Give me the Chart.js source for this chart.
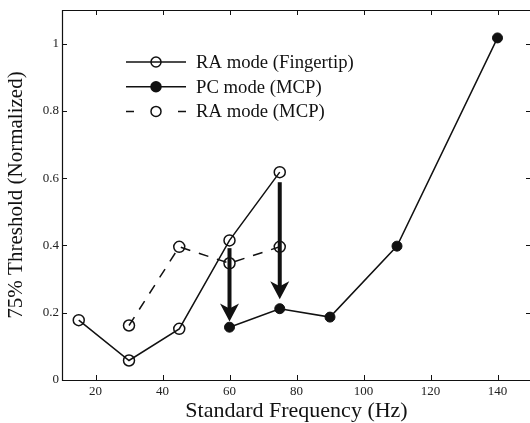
<!DOCTYPE html>
<html>
<head>
<meta charset="utf-8">
<script src="https://cdn.jsdelivr.net/npm/chart.js@4/dist/chart.umd.min.js"></script>
<style>
  html, body { margin: 0; padding: 0; background: #fff; }
  /* the right edge of the axes box sits just past the picture edge, so clip it */
  #wrap { width: 530px; height: 423px; overflow: hidden; }
</style>
</head>
<body>
<div id="wrap"><canvas id="chart" width="538" height="423"></canvas></div>
<script>
// values
const raFingerX = [15, 30, 45, 60, 75];
const raFingerY = [0.178, 0.058, 0.152, 0.415, 0.618];
const pcMcpX = [60, 75, 90, 110, 140];
const pcMcpY = [0.157, 0.212, 0.187, 0.398, 1.017];
const raMcpX = [30, 45, 60, 75];
const raMcpY = [0.162, 0.396, 0.347, 0.396];

// the two shift arrows (x, from y, to y)
const arrowX = [60, 75];
const arrowFrom = [0.392, 0.588];
const arrowTo = [0.174, 0.24];

const xTicks = [20, 40, 60, 80, 100, 120, 140];
const yTicks = [0, 0.2, 0.4, 0.6, 0.8, 1];

const INK = '#111';
const SERIF = '"Liberation Serif", "Times New Roman", serif';

const toPoints = (xs, ys) => xs.map((x, i) => ({ x: x, y: ys[i] }));

// ── frame with inward ticks on all four sides ──
const framePlugin = {
    id: 'frame',
    afterDraw(chart) {
        const { ctx, chartArea: a, scales: { x, y } } = chart;
        const l = Math.round(a.left) + 0.5, r = Math.round(a.right) + 1.5;
        const t = Math.round(a.top) + 0.5, b = Math.round(a.bottom) + 0.5;
        ctx.save();
        ctx.strokeStyle = INK;
        ctx.lineWidth = 1.2;
        ctx.beginPath();
        ctx.moveTo(r, t); ctx.lineTo(l, t); ctx.lineTo(l, b); ctx.lineTo(r, b); ctx.lineTo(r, t);
        ctx.stroke();
        ctx.lineWidth = 1;
        ctx.beginPath();
        x.ticks.forEach(tk => {
            const px = Math.round(x.getPixelForValue(tk.value)) + 0.5;
            ctx.moveTo(px, a.bottom); ctx.lineTo(px, a.bottom - 5);
            ctx.moveTo(px, a.top); ctx.lineTo(px, a.top + 5);
        });
        y.ticks.forEach(tk => {
            const py = Math.round(y.getPixelForValue(tk.value)) + 0.5;
            ctx.moveTo(a.left, py); ctx.lineTo(a.left + 5, py);
            ctx.moveTo(a.right, py); ctx.lineTo(a.right - 5, py);
        });
        ctx.stroke();
        ctx.restore();
    }
};

// ── thick downward arrows ──
const arrowPlugin = {
    id: 'arrows',
    afterDatasetsDraw(chart) {
        const { ctx, scales: { x, y } } = chart;
        ctx.save();
        ctx.strokeStyle = INK;
        ctx.fillStyle = INK;
        arrowX.forEach((ax, i) => {
            const px = x.getPixelForValue(ax);
            const y0 = y.getPixelForValue(arrowFrom[i]);
            const y1 = y.getPixelForValue(arrowTo[i]);
            ctx.lineWidth = 4;
            ctx.beginPath();
            ctx.moveTo(px, y0);
            ctx.lineTo(px, y1 - 12);
            ctx.stroke();
            ctx.beginPath();
            ctx.moveTo(px, y1);
            ctx.lineTo(px + 9.5, y1 - 18);
            ctx.lineTo(px, y1 - 13);
            ctx.lineTo(px - 9.5, y1 - 18);
            ctx.closePath();
            ctx.fill();
        });
        ctx.restore();
    }
};

// ── legend drawn inside the plot, upper left ──
const legendPlugin = {
    id: 'innerLegend',
    afterDraw(chart) {
        const { ctx } = chart;
        ctx.save();
        chart.data.datasets.forEach((ds, i) => {
            const cy = 62 + i * 24.7;
            ctx.strokeStyle = INK;
            ctx.lineWidth = 1.5;
            ctx.setLineDash(ds.borderDash && ds.borderDash.length ? [8, 44] : []);
            ctx.beginPath();
            ctx.moveTo(126, cy);
            ctx.lineTo(186, cy);
            ctx.stroke();
            ctx.setLineDash([]);
            ctx.beginPath();
            ctx.arc(156, cy, 5, 0, Math.PI * 2);
            if (ds.pointBackgroundColor !== 'transparent') {
                ctx.fillStyle = INK;
                ctx.fill();
            }
            ctx.stroke();
            ctx.fillStyle = INK;
            ctx.font = '18.7px ' + SERIF;
            ctx.textBaseline = 'middle';
            ctx.textAlign = 'left';
            ctx.fillText(ds.label, 196, cy + 1);
        });
        ctx.restore();
    }
};

new Chart(document.getElementById('chart'), {
    type: 'scatter',
    data: {
        datasets: [
            {
                label: 'RA mode (Fingertip)',
                data: toPoints(raFingerX, raFingerY),
                showLine: true,
                borderColor: INK,
                borderWidth: 1.5,
                pointRadius: 5.5,
                pointBorderWidth: 1.5,
                pointBorderColor: INK,
                pointBackgroundColor: 'transparent',
                borderDash: []
            },
            {
                label: 'PC mode (MCP)',
                data: toPoints(pcMcpX, pcMcpY),
                showLine: true,
                borderColor: INK,
                borderWidth: 1.5,
                pointRadius: 5,
                pointBorderWidth: 1,
                pointBorderColor: INK,
                pointBackgroundColor: INK,
                borderDash: []
            },
            {
                label: 'RA mode (MCP)',
                data: toPoints(raMcpX, raMcpY),
                showLine: true,
                borderColor: INK,
                borderWidth: 1.5,
                borderDash: [10, 9],
                pointRadius: 5.5,
                pointBorderWidth: 1.5,
                pointBorderColor: INK,
                pointBackgroundColor: 'transparent'
            }
        ]
    },
    options: {
        responsive: false,
        animation: false,
        devicePixelRatio: 1,
        layout: { padding: { top: 10, right: 0, left: 0, bottom: 0 } },
        plugins: {
            legend: { display: false },
            tooltip: { enabled: false }
        },
        scales: {
            x: {
                type: 'linear',
                min: 10, max: 150,
                afterBuildTicks: s => { s.ticks = xTicks.map(v => ({ value: v })); },
                afterFit: s => { s.height = 43; s.paddingLeft = 0; s.paddingRight = 0; },
                grid: { display: false, drawTicks: false },
                border: { display: false },
                ticks: { color: '#222', font: { family: SERIF, size: 13 }, padding: 4, maxRotation: 0 },
                title: {
                    display: true,
                    text: 'Standard Frequency (Hz)',
                    color: INK,
                    font: { family: SERIF, size: 22, lineHeight: 1 },
                    padding: { top: 0, bottom: 1 }
                }
            },
            y: {
                min: 0, max: 1.1,
                afterBuildTicks: s => { s.ticks = yTicks.map(v => ({ value: v })); },
                afterFit: s => { s.width = 62; s.paddingTop = 0; s.paddingBottom = 0; },
                grid: { display: false, drawTicks: false },
                border: { display: false },
                ticks: {
                    color: '#222', font: { family: SERIF, size: 13 }, padding: 3,
                    callback: v => String(Math.round(v * 10) / 10)
                },
                title: {
                    display: true,
                    text: '75% Threshold (Normalized)',
                    color: INK,
                    font: { family: SERIF, size: 21, lineHeight: 1 },
                    padding: { top: 6, bottom: 0 }
                }
            }
        }
    },
    plugins: [arrowPlugin, framePlugin, legendPlugin]
});
</script>
</body>
</html>
